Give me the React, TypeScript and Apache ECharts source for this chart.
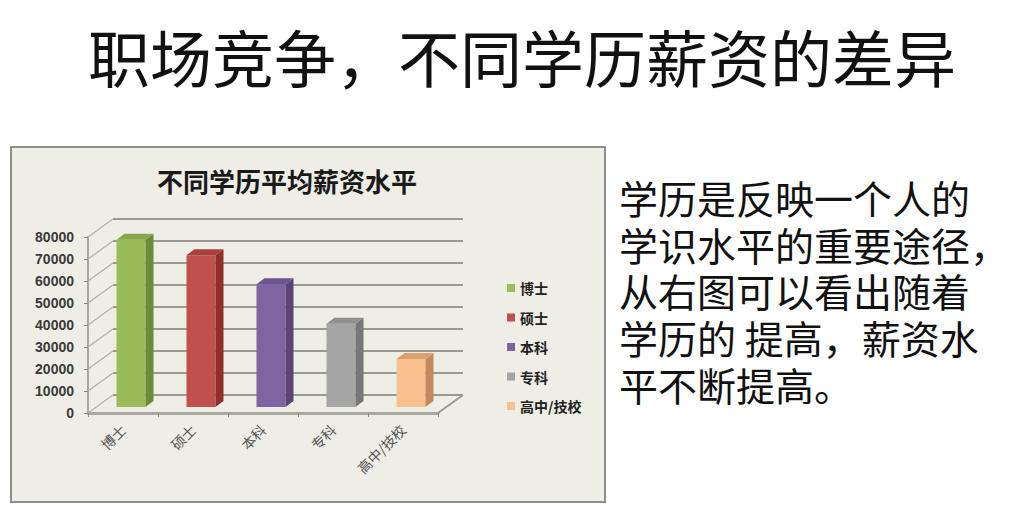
import React, { useEffect, useRef } from "react";
import * as echarts from "echarts";

const categories = ["博士", "硕士", "本科", "专科", "高中/技校"];
const salaries = [76000, 69000, 55800, 37800, 21800];
const yTicks = [0, 10000, 20000, 30000, 40000, 50000, 60000, 70000, 80000];
const frontColors = ["#9bbb59", "#c0504d", "#8064a2", "#a5a5a5", "#fac090"];
const sideColors = ["#6c8a38", "#8f2e2b", "#594577", "#777777", "#c28a5c"];
const topColors = ["#86a64a", "#a8403c", "#6c5490", "#8f8f8f", "#dca070"];
const pageTitle = "职场竞争，不同学历薪资的差异";
const chartTitle = "不同学历平均薪资水平";
const sideText = [
  "学历是反映一个人的",
  "学识水平的重要途径，",
  "从右图可以看出随着",
  "学历的 提高，薪资水",
  "平不断提高。",
];

const FONT = '"Noto Sans CJK SC", "Noto Sans", sans-serif';
const DX = 25;
const DY = -18;
const BAR_FX = 8;
const BAR_FY = -6;
const BAR_DX = 8;
const BAR_DY = -6;
const BAR_W = 29;

export default function App() {
  const ref = useRef<HTMLDivElement>(null);
  useEffect(() => {
    if (!ref.current) return;
    const chart = echarts.init(ref.current, undefined, { renderer: "svg" });

    const wallSeries: any = {
      type: "custom",
      name: "walls",
      clip: false,
      z: 1,
      silent: true,
      data: yTicks.map((v) => [0, v]),
      renderItem: (params: any, api: any) => {
        const cs = params.coordSys;
        const y = api.coord([0, api.value(1)])[1];
        const x0 = cs.x;
        const x1 = cs.x + cs.width;
        const children: any[] = [
          {
            type: "line",
            shape: { x1: x0 + DX, y1: y + DY, x2: x1 + DX, y2: y + DY },
            style: { stroke: "#9a9992", lineWidth: 2 },
          },
          {
            type: "line",
            shape: { x1: x0, y1: y, x2: x0 + DX, y2: y + DY },
            style: { stroke: "#b0afa8", lineWidth: 1.2 },
          },
        ];
        if (api.value(1) === 0) {
          children.push({
            type: "line",
            shape: { x1: x1, y1: y, x2: x1 + DX, y2: y + DY },
            style: { stroke: "#9a9992", lineWidth: 2 },
          });
        }
        return { type: "group", children };
      },
    };

    const barSeries: any[] = categories.map((name, k) => ({
      type: "custom",
      name,
      clip: false,
      z: 3,
      itemStyle: { color: frontColors[k] },
      data: [[k, salaries[k]]],
      renderItem: (params: any, api: any) => {
        const base = api.coord([api.value(0), 0]);
        const top = api.coord([api.value(0), api.value(1)]);
        const cx = base[0] + BAR_FX;
        const by = base[1] + BAR_FY;
        const ty = top[1] + BAR_FY;
        const l = cx - BAR_W / 2;
        const r = cx + BAR_W / 2;
        return {
          type: "group",
          children: [
            {
              type: "polygon",
              shape: { points: [[l, ty], [r, ty], [r, by], [l, by]] },
              style: { fill: frontColors[k] },
            },
            {
              type: "polygon",
              shape: {
                points: [[r, ty], [r + BAR_DX, ty + BAR_DY], [r + BAR_DX, by + BAR_DY], [r, by]],
              },
              style: { fill: sideColors[k] },
            },
            {
              type: "polygon",
              shape: {
                points: [[l, ty], [r, ty], [r + BAR_DX, ty + BAR_DY], [l + BAR_DX, ty + BAR_DY]],
              },
              style: { fill: topColors[k] },
            },
          ],
        };
      },
    }));

    const graphics: any[] = [
      {
        type: "rect",
        z: -10,
        shape: { x: 11, y: 147, width: 594, height: 355 },
        style: { fill: "#eeede6", stroke: "#8e8e8a", lineWidth: 2 },
      },
      {
        type: "text",
        x: 88,
        y: 56,
        style: {
          text: pageTitle,
          font: `62px ${FONT}`,
          fill: "#111",
          verticalAlign: "middle",
        },
      },
      {
        type: "text",
        x: 287,
        y: 180,
        style: {
          text: chartTitle,
          font: `bold 26px ${FONT}`,
          fill: "#1a1a1a",
          align: "center",
          verticalAlign: "middle",
        },
      },
      ...sideText.map((t, i) => ({
        type: "text",
        x: 619,
        y: 197 + i * 46.7,
        style: {
          text: t,
          font: `39px ${FONT}`,
          lineHeight: 42,
          fill: "#111",
          verticalAlign: "middle",
        },
      })),
    ];

    chart.setOption({
      animation: false,
      backgroundColor: "#ffffff",
      textStyle: { fontFamily: FONT },
      graphic: { elements: graphics },
      legend: {
        data: categories,
        orient: "vertical",
        left: 502,
        top: 276,
        icon: "rect",
        itemWidth: 8,
        itemHeight: 8,
        itemGap: 15.5,
        textStyle: { fontSize: 14, lineHeight: 14, color: "#222", fontWeight: "bold", fontFamily: FONT },
      },
      grid: { left: 88, top: 237, width: 350, height: 176, containLabel: false },
      xAxis: {
        type: "category",
        data: categories,
        boundaryGap: true,
        axisLine: { show: true, lineStyle: { color: "#a8a7a0", width: 3 } },
        axisTick: { show: true, length: 4, lineStyle: { color: "#8a8a84" } },
        axisLabel: {
          rotate: 45,
          margin: 14,
          fontSize: 14,
          color: "#555",
          fontFamily: FONT,
        },
        splitLine: { show: false },
      },
      yAxis: {
        type: "value",
        min: 0,
        max: 80000,
        interval: 10000,
        axisLine: { show: true, lineStyle: { color: "#a8a7a0", width: 2 } },
        axisTick: { show: true, length: 4, lineStyle: { color: "#8a8a84" } },
        axisLabel: {
          margin: 14,
          fontSize: 14,
          fontWeight: "bold",
          color: "#3a3a3a",
          fontFamily: '"Liberation Sans", Arial, sans-serif',
          formatter: (v: number) => String(v),
        },
        splitLine: { show: false },
      },
      series: [wallSeries, ...barSeries],
    });
    return () => chart.dispose();
  }, []);
  return (
    <div
      ref={ref}
      style={{ position: "absolute", left: 0, top: 0, width: 1011, height: 508 }}
    />
  );
}
